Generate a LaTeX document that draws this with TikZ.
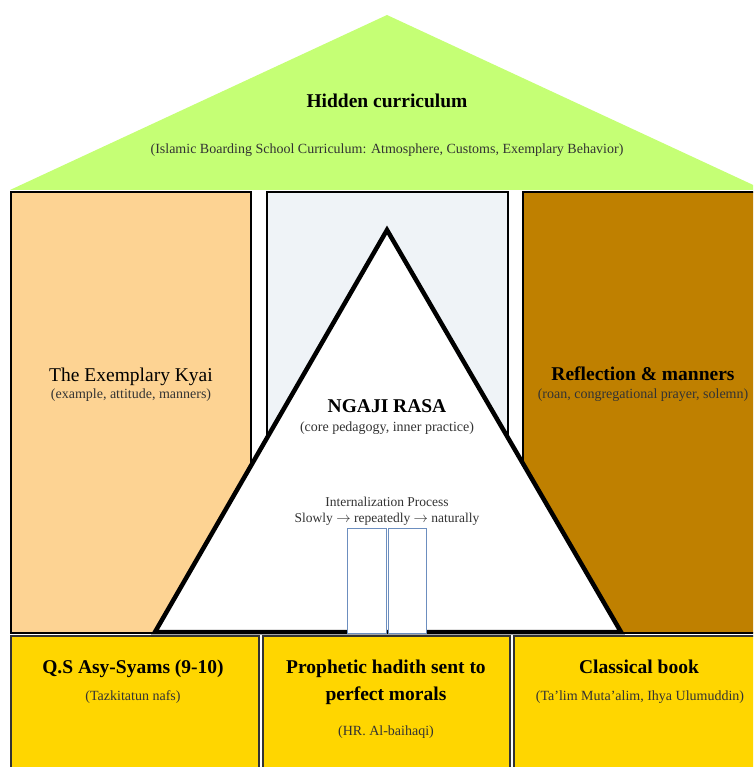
\documentclass[tikz,border=0pt]{standalone}
\usepackage{fontspec}
\setmainfont{Liberation Serif}
\definecolor{roofgreen}{RGB}{197,255,117}
\definecolor{kyaiorange}{RGB}{253,211,147}
\definecolor{middlegray}{RGB}{239,243,247}
\definecolor{mannerbrown}{RGB}{191,128,0}
\definecolor{basegold}{RGB}{255,214,0}
\definecolor{doorblue}{RGB}{108,142,191}
\begin{document}
\begin{tikzpicture}[x=1pt,y=-1pt,
	pillar/.style={draw=black,line width=2pt},
	basebox/.style={draw=black!80,line width=2pt,fill=basegold},
	door/.style={draw=doorblue,line width=0.8pt,fill=white},
	bigtext/.style={font=\fontsize{19.5}{23}\selectfont,anchor=base,inner sep=0pt},
	smalltext/.style={font=\fontsize{14}{16}\selectfont,anchor=base,inner sep=0pt,text=black!80}]
				\clip (0,0) rectangle (753,767);
				% Vẽ mái nhà
				\fill[roofgreen] (10,190) -- (387,15) -- (764,190) -- cycle;
				\node[bigtext,font=\fontsize{19.5}{23}\selectfont\bfseries] (roof) at (387,108) {Hidden curriculum};
				\node[smalltext] (roof sub) at (387,154) {(Islamic Boarding School Curriculum: Atmosphere, Customs, Exemplary Behavior)};
				
				% Vẽ ba cột
				\draw[pillar,fill=kyaiorange] (11,192) rectangle (251,633);
				\draw[pillar,fill=middlegray] (267,192) rectangle (508,633);
				\draw[pillar,fill=mannerbrown] (523,192) rectangle (770,633);
				
				% Vẽ tam giác ở giữa
				\draw[line width=4.5pt,line join=miter,fill=white] (387,230) -- (155,632) -- (621,632) -- cycle;
				\draw[door] (347,528) rectangle (386,633);
				\draw[door] (388,528) rectangle (426,633);
				
				% Chữ trên các cột
				\node[bigtext] (kyai) at (131,381) {The Exemplary Kyai};
				\node[smalltext] (kyai sub) at (131,398) {(example, attitude, manners)};
				\node[bigtext,font=\fontsize{19.5}{23}\selectfont\bfseries] (rasa) at (387,412) {NGAJI RASA};
				\node[smalltext] (rasa sub) at (387,431) {(core pedagogy, inner practice)};
				\node[smalltext,font=\fontsize{13.5}{16}\selectfont] (process) at (387,506) {Internalization Process};
				\node[smalltext,font=\fontsize{13.5}{16}\selectfont] (process sub) at (387,522) {Slowly $\rightarrow$ repeatedly $\rightarrow$ naturally};
				\node[bigtext,font=\fontsize{19.5}{23}\selectfont\bfseries] (manners) at (643,380) {Reflection \& manners};
				\node[smalltext] (manners sub) at (643,398) {(roan, congregational prayer, solemn)};
				
				% Vẽ ba ô nền
				\draw[basebox] (11,636) rectangle (259,780);
				\draw[basebox] (263,636) rectangle (510,780);
				\draw[basebox] (514,636) rectangle (770,780);
				\node[bigtext,font=\fontsize{19.5}{23}\selectfont\bfseries] (syams) at (133,673) {Q.S Asy-Syams (9-10)};
				\node[smalltext] (syams sub) at (133,700) {(Tazkitatun nafs)};
				\node[bigtext,font=\fontsize{19.5}{23}\selectfont\bfseries] (hadith) at (386,673) {Prophetic hadith sent to};
				\node[bigtext,font=\fontsize{19.5}{23}\selectfont\bfseries] (hadith two) at (386,700) {perfect morals};
				\node[smalltext] (hadith sub) at (386,735) {(HR. Al-baihaqi)};
				\node[bigtext,font=\fontsize{19.5}{23}\selectfont\bfseries] (kitab) at (639,673) {Classical book};
				\node[smalltext] (kitab sub) at (640,700) {(Ta'lim Muta'alim, Ihya Ulumuddin)};
			\end{tikzpicture}
\end{document}
